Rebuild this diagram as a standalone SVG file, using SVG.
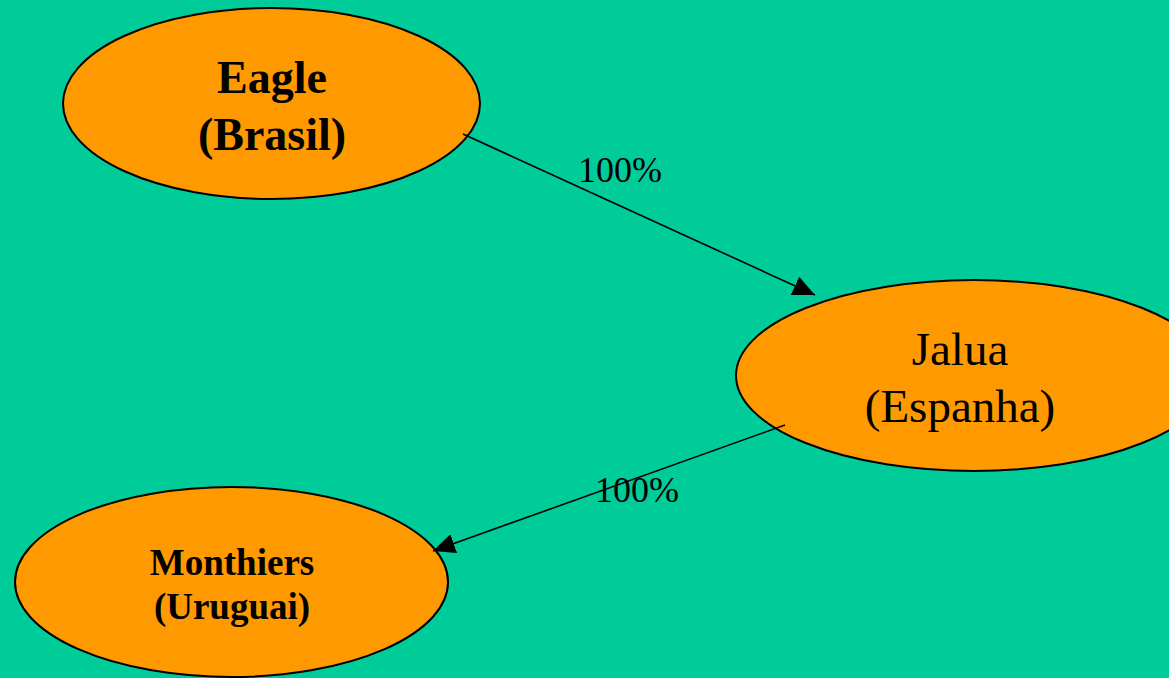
<svg xmlns="http://www.w3.org/2000/svg" width="1169" height="678" viewBox="0 0 1169 678">
<style>
.node{fill:#FF9900;stroke:#000;stroke-width:2}
.t{font-family:"Liberation Serif","Times New Roman",serif;fill:#000;text-anchor:middle}
.b{font-weight:bold}
.edge{stroke:#000;stroke-width:1.6;fill:none}
</style>
<defs>
<marker id="arr" markerUnits="userSpaceOnUse" markerWidth="24" markerHeight="22" refX="22" refY="10" orient="auto">
<path d="M0,0 L22,10 L0,20 Z" fill="#000"/>
</marker>
</defs>
<rect width="1169" height="678" fill="#00CC99"/>
<g id="eagle">
<ellipse class="node" cx="271.5" cy="103.5" rx="208.5" ry="95.5"/>
<text class="t b" x="272" y="93" font-size="46">Eagle</text>
<text class="t b" x="272" y="150" font-size="46">(Brasil)</text>
</g>
<g id="jalua">
<ellipse class="node" cx="974" cy="375.5" rx="238" ry="95.5"/>
<text class="t" x="960" y="365" font-size="47">Jalua</text>
<text class="t" x="960" y="422" font-size="47">(Espanha)</text>
</g>
<g id="monthiers">
<ellipse class="node" cx="231.5" cy="582" rx="216.5" ry="95"/>
<text class="t b" x="232" y="575" font-size="37">Monthiers</text>
<text class="t b" x="232" y="619" font-size="37">(Uruguai)</text>
</g>
<g id="connectors">
<line class="edge" x1="463" y1="134" x2="815" y2="295" marker-end="url(#arr)"/>
<line class="edge" x1="785" y1="425" x2="433" y2="551" marker-end="url(#arr)"/>
<text class="t" x="620" y="182" font-size="36">100%</text>
<text class="t" x="637" y="502" font-size="36">100%</text>
</g>
</svg>
